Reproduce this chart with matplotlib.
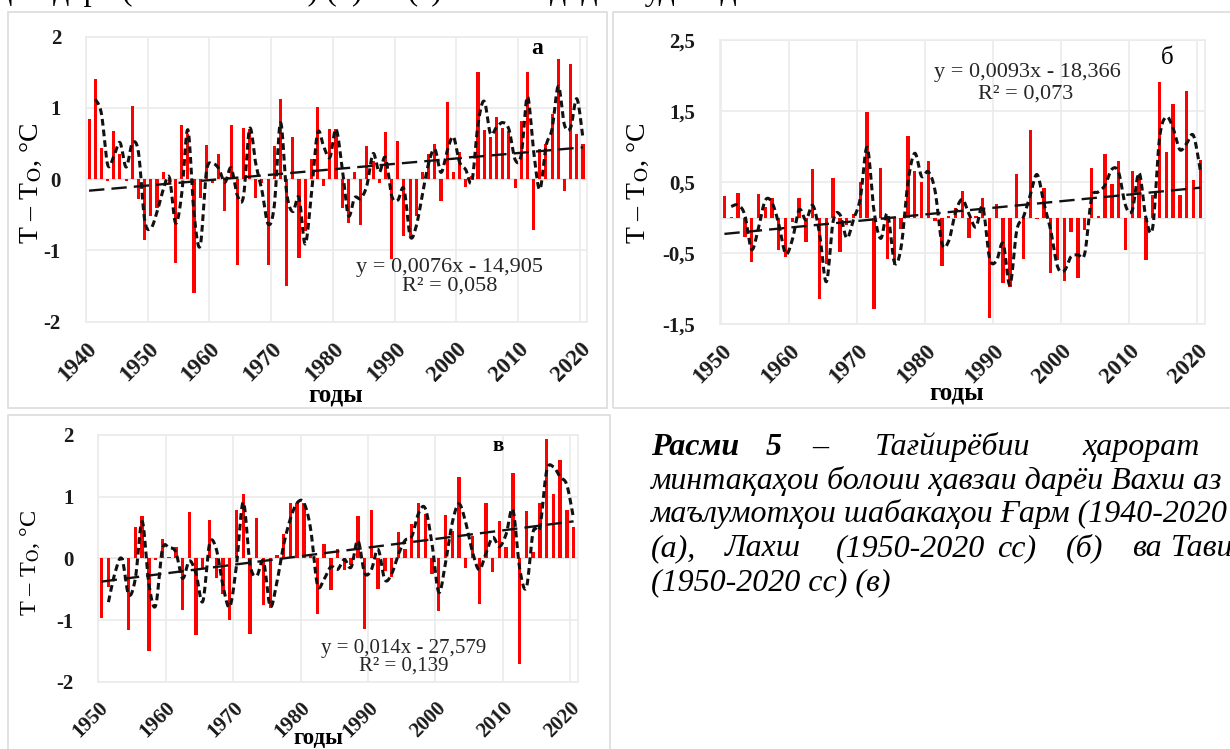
import numpy as np
import pandas as pd
import matplotlib
matplotlib.use('Agg')
import matplotlib.pyplot as plt
from matplotlib.patches import Rectangle

plt.rcParams['font.family'] = ['Liberation Serif', 'DejaVu Serif']
plt.rcParams['mathtext.fontset'] = 'stix'

# --- data: T - T0 anomalies, degC ---
years_a = np.arange(1940, 2021)
anom_a = [0.85, 1.40, 0.44, -0.03, 0.67, 0.36, -0.02, 1.03, -0.28, -0.86,
          -0.52, -0.40, 0.10, -0.05, -1.18, 0.76, 0.63, -1.60, -0.27, 0.48,
          -0.05, 0.35, -0.44, 0.76, -1.21, 0.72, 0.70, -0.27, -0.05, -1.21,
          0.47, 1.12, -1.50, 0.59, -1.10, -0.72, 0.29, 1.01, -0.09, 0.70,
          0.70, -0.40, -0.62, 0.10, -0.64, 0.47, 0.25, -0.05, 0.66, -1.12,
          0.53, -0.80, -0.80, -0.51, 0.10, 0.35, 0.49, -0.30, 1.09, 0.10,
          0.38, -0.11, 0.05, 1.50, 0.69, 0.59, 0.87, 0.72, 0.68, -0.13,
          0.82, 1.50, -0.71, 0.42, 0.50, 0.92, 1.69, -0.17, 1.62, 0.64,
          0.50]

years_b = np.arange(1950, 2021)
anom_b = [0.30, 0.01, 0.34, -0.27, -0.63, 0.33, 0.15, 0.27, -0.46, -0.56,
          -0.06, 0.28, -0.35, 0.69, -1.15, -0.66, 0.56, -0.48, -0.10, 0.05,
          0.50, 1.48, -1.29, 0.70, -0.59, -0.67, -0.16, 1.15, 0.66, 0.50,
          0.79, -0.05, -0.68, 0.02, 0.13, 0.38, -0.29, 0.02, 0.28, -1.42,
          0.19, -0.92, -0.98, 0.61, -0.59, 1.23, -0.02, 0.42, -0.78, -0.60,
          -0.90, -0.20, -0.85, -0.17, 0.70, 0.02, 0.89, 0.47, 0.80, -0.46,
          0.66, 0.60, -0.60, 0.31, 1.91, 0.92, 1.60, 0.31, 1.78, 0.53,
          0.81]

years_v = np.arange(1950, 2021)
anom_v = [-0.96, -0.46, 0.01, -0.02, -1.16, 0.51, 0.69, -1.51, -0.03, 0.32,
          0.02, 0.18, -0.83, 0.75, -1.25, -0.15, 0.62, -0.32, -0.57, -1.00,
          0.78, 1.04, -1.23, 0.66, -0.75, -0.81, 0.05, 0.39, 0.90, 0.90,
          0.90, 0.05, -0.91, 0.24, -0.51, 0.15, -0.19, -0.10, 0.68, -1.15,
          0.78, -0.49, -0.20, -0.31, 0.43, 0.15, 0.56, 0.90, 0.72, -0.25,
          -0.85, 0.70, 0.45, 1.32, -0.16, 0.37, -0.74, 0.90, -0.22, 0.60,
          0.19, 1.39, -1.71, 0.76, 0.10, 0.90, 1.93, 1.04, 1.60, 0.78,
          0.51]

# linear trends (slope, intercept); printed slopes are rounded
trend_a = (0.0076, -14.905)
trend_b = (0.0093, -18.366)
trend_v = (0.01395, -27.579)
eq_a = ['y = 0,0076x - 14,905', 'R² = 0,058']
eq_b = ['y = 0,0093x - 18,366', 'R² = 0,073']
eq_v = ['y = 0,014x - 27,579', 'R² = 0,139']

W, H = 1230, 749
fig = plt.figure(figsize=(W / 100, H / 100), dpi=100)
fig.patch.set_facecolor('white')

GRID = '#ebebeb'
SERIF = ['Liberation Serif', 'DejaVu Serif']


def fx(x):
    return x / W


def fy(y):
    return 1 - y / H


def add_axes_px(l, t, r, b):
    return fig.add_axes([l / W, 1 - b / H, (r - l) / W, (b - t) / H])


def box(l, t, r, b):
    fig.patches.append(Rectangle((fx(l), fy(b)), (r - l) / W, (b - t) / H,
                                 transform=fig.transFigure, fill=False,
                                 edgecolor='#dcdcdc', lw=1.2))


def catmull(x, y, n=12):
    # smooth curve through the points (like Excel's smoothed line)
    p = np.column_stack([x, y])
    p = np.vstack([p[0], p, p[-1]])
    t = np.linspace(0, 1, n, endpoint=False)[:, None]
    out = []
    for i in range(1, len(p) - 2):
        p0, p1, p2, p3 = p[i - 1], p[i], p[i + 1], p[i + 2]
        out.append(0.5 * (2 * p1 + (-p0 + p2) * t
                          + (2 * p0 - 5 * p1 + 4 * p2 - p3) * t ** 2
                          + (-p0 + 3 * p1 - 3 * p2 + p3) * t ** 3))
    out.append(p[-2][None])
    return np.vstack(out)


def panel(rect, years, vals, trend, xlim, ylim, yticks, ylabels, xsize):
    ax = add_axes_px(*rect)
    x = years + 0.5
    ax.bar(x, vals, width=0.5, color='#ff0000', zorder=2)
    # 2-period moving average, drawn smoothed
    ma = pd.Series(vals).rolling(2).mean().to_numpy()
    sm = catmull(x[1:], ma[1:])
    ax.plot(sm[:, 0], sm[:, 1], color='#111111', lw=2.2,
            dashes=(2.2, 1.3), zorder=4)
    k, b0 = trend
    ax.plot(x, k * years + b0, color='#111111', lw=1.7,
            dashes=(6.5, 3.0), zorder=3)
    ax.axhline(0, color='#e4e4e4', lw=1, zorder=1)
    ax.set_xlim(*xlim)
    ax.set_ylim(*ylim)
    ax.set_xticks(np.arange(years[0] // 10 * 10, 2021, 10))
    ax.set_yticks(yticks)
    ax.set_yticklabels(ylabels)
    ax.grid(True, color=GRID, lw=1.2, zorder=0)
    ax.set_axisbelow(True)
    for s in ax.spines.values():
        s.set_color(GRID)
        s.set_linewidth(1.2)
    ax.tick_params(length=0)
    ax.tick_params(axis='y', pad=18, labelsize=15)
    for lb in ax.get_yticklabels():
        lb.set_fontweight('bold')
        lb.set_color('#1a1a1a')
    for lb in ax.get_xticklabels():
        lb.set_rotation(45)
        lb.set_ha('right')
        lb.set_rotation_mode('anchor')
        lb.set_fontsize(xsize)
        lb.set_fontweight('bold')
        lb.set_color('#1a1a1a')
    ax.tick_params(axis='x', pad=12)
    return ax


# chart frames
box(8, 11.7, 606.7, 408)
box(613.3, 11.7, 1240, 408)
box(8, 415, 610, 760)

ticks2 = [-2, -1, 0, 1, 2]
lab2 = ['-2', '-1', '0', '1', '2']
panel((86, 36.7, 586.7, 321.7), years_a, anom_a, trend_a,
      (1940, 2021.1), (-2, 2), ticks2, lab2, 16.5)
panel((720, 40, 1205, 324), years_b, anom_b, trend_b,
      (1949.85, 2021.2), (-1.5, 2.5), [-1.5, -0.5, 0.5, 1.5, 2.5],
      ['-1,5', '-0,5', '0,5', '1,5', '2,5'], 16.5)
panel((98.3, 435, 578.3, 681.7), years_v, anom_v, trend_v,
      (1950, 2021.2), (-2, 2), ticks2, lab2, 15)

# axis titles
ylab = r'T – T$_\mathrm{O}$, °C'
fig.text(fx(31), fy(183), ylab, rotation=90, ha='center', va='center',
         fontsize=20, family=SERIF)
fig.text(fx(638), fy(183), ylab, rotation=90, ha='center', va='center',
         fontsize=20, family=SERIF)
fig.text(fx(30), fy(563), ylab, rotation=90, ha='center', va='center',
         fontsize=17.5, family=SERIF)
for xx, yy, fs in [(336, 395, 18), (957, 393, 18), (318, 739, 16.5)]:
    fig.text(fx(xx), fy(yy), 'годы', ha='center', va='center',
             fontsize=fs, fontweight='bold', family=SERIF)

# panel letters
fig.text(fx(537), fy(49), 'а', ha='center', va='center', fontsize=17,
         fontweight='bold', family=SERIF)
fig.text(fx(1167), fy(58), 'б', ha='center', va='center', fontsize=18,
         family=SERIF)
fig.text(fx(498), fy(446), 'в', ha='center', va='center', fontsize=15,
         fontweight='bold', family=SERIF)

# trend equations
EQC = '#262626'
for (xx, yy), s in zip([(449, 267), (450, 286)], eq_a):
    fig.text(fx(xx), fy(yy), s, ha='center', va='center', fontsize=16,
             color=EQC, family=SERIF)
for (xx, yy), s in zip([(1027, 73), (1026, 94)], eq_b):
    fig.text(fx(xx), fy(yy), s, ha='center', va='center', fontsize=16,
             color=EQC, family=SERIF)
for (xx, yy), s in zip([(404, 649), (404, 666)], eq_v):
    fig.text(fx(xx), fy(yy), s, ha='center', va='center', fontsize=15,
             color=EQC, family=SERIF)

# caption (justified lines, cut at the right edge as in the source)
CAP = dict(fontsize=23, style='italic', family=SERIF, va='baseline')
line1 = [(651, 'Расми', 'bold'), (766, '5', 'bold'), (812, '–', 'normal'),
         (875, 'Тағйирёбии', 'normal'), (1082, 'ҳарорат', 'normal')]
for xx, s, w in line1:
    fig.text(fx(xx), fy(455), s, fontweight=w, **CAP)
fig.text(fx(651), fy(489), 'минтақаҳои болоии ҳавзаи дарёи Вахш аз', **CAP)
fig.text(fx(651), fy(522), 'маълумотҳои шабакаҳои Ғарм (1940-2020', **CAP)
line4 = [(651, '(а),'), (725, 'Лахш'), (836, '(1950-2020'), (997, 'сс)'),
         (1066, '(б)'), (1132, 'ва'), (1171, 'Тавилд')]
for xx, s in line4:
    fig.text(fx(xx), fy(556), s, **CAP)
fig.text(fx(651), fy(590), '(1950-2020 сс) (в)', **CAP)

# fragment of the previous text line, cut at the top edge
fig.text(fx(-4), fy(0), 'ҳои дара (1950-2020 сс) (в) ва (г) нишон дода шудаанд.',
         fontsize=23, family=SERIF, va='baseline')

fig.savefig('out.png', dpi=100, facecolor='white')
